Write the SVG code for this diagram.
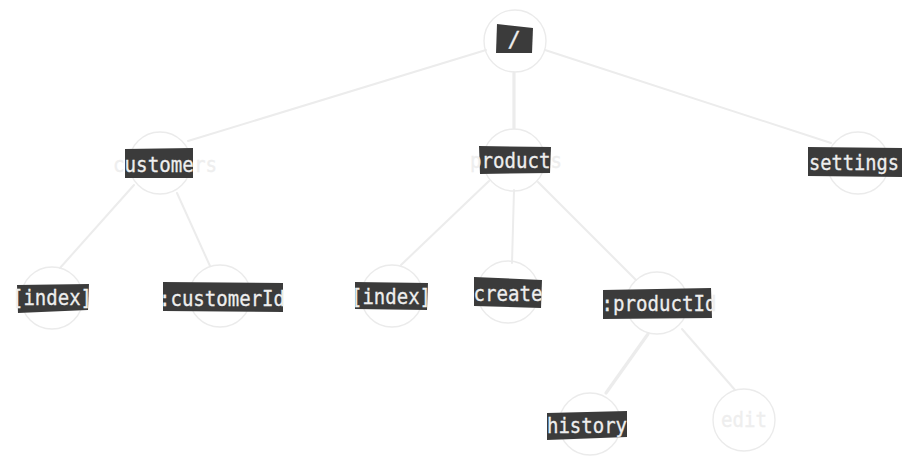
<svg xmlns="http://www.w3.org/2000/svg" width="913" height="466" viewBox="0 0 913 466">
<style>
.c{fill:none;stroke:#ebebeb;stroke-width:1.4}
.e{stroke:#ececec;stroke-width:2;fill:none;stroke-linecap:round}
.w{stroke-width:3.2}
.b{fill:#3b3b3b}
.t{font-family:"DejaVu Sans Mono",monospace;font-size:22px;fill:#eeeeee;stroke:#eeeeee;stroke-width:0.3;text-anchor:middle}
</style>
<rect width="913" height="466" fill="#ffffff"/>
<g id="connectors">
<path class="e" d="M486 50 L188 141"/>
<path class="e w" d="M514 73 L514 128"/>
<path class="e" d="M545 50 L831 143"/>
<path class="e" d="M134 185 L60 268"/>
<path class="e" d="M177 193 L210 266"/>
<path class="e" d="M489 181 L401 265"/>
<path class="e" d="M514 190 L512 263"/>
<path class="e" d="M538 182 L636 280"/>
<path class="e w" d="M648 334 L606 393"/>
<path class="e" d="M682 329 L735 390"/>
</g>
<g id="n-root">
<circle class="c" cx="515" cy="41" r="31"/>
<polygon class="b" points="497,24 533,28 532,53 496,53"/>
<text class="t" x="514" y="47">/</text>
</g>
<g id="n-customers">
<circle class="c" cx="160" cy="163" r="31"/>
<polygon class="b" points="125,149 193,148 193,178 125,178"/>
<text class="t" x="165" y="172" textLength="104" lengthAdjust="spacingAndGlyphs">customers</text>
</g>
<g id="n-products">
<circle class="c" cx="514" cy="160" r="31"/>
<polygon class="b" points="479,146 551,147 550,173 480,174"/>
<text class="t" x="516" y="168" textLength="92" lengthAdjust="spacingAndGlyphs">products</text>
</g>
<g id="n-settings">
<circle class="c" cx="858" cy="163" r="31"/>
<polygon class="b" points="808,147 902,148 902,177 808,176"/>
<text class="t" x="854" y="170" textLength="90" lengthAdjust="spacingAndGlyphs">settings</text>
</g>
<g id="n-cust-index">
<circle class="c" cx="52" cy="298" r="31"/>
<polygon class="b" points="17,285 89,284 88,310 18,313"/>
<text class="t" x="52" y="305" textLength="80" lengthAdjust="spacingAndGlyphs">[index]</text>
</g>
<g id="n-customerId">
<circle class="c" cx="220" cy="296" r="31"/>
<polygon class="b" points="163,282 283,283 283,312 163,311"/>
<text class="t" x="222" y="306" textLength="126" lengthAdjust="spacingAndGlyphs">:customerId</text>
</g>
<g id="n-prod-index">
<circle class="c" cx="392" cy="296" r="31"/>
<polygon class="b" points="355,282 428,283 427,310 355,309"/>
<text class="t" x="391" y="304" textLength="80" lengthAdjust="spacingAndGlyphs">[index]</text>
</g>
<g id="n-create">
<circle class="c" cx="508" cy="292" r="31"/>
<polygon class="b" points="474,277 542,280 541,308 474,306"/>
<text class="t" x="508" y="301" textLength="69" lengthAdjust="spacingAndGlyphs">create</text>
</g>
<g id="n-productId">
<circle class="c" cx="657" cy="303" r="31"/>
<polygon class="b" points="603,290 711,288 712,318 603,319"/>
<text class="t" x="659" y="311" textLength="115" lengthAdjust="spacingAndGlyphs">:productId</text>
</g>
<g id="n-history">
<circle class="c" cx="590" cy="424" r="31"/>
<polygon class="b" points="547,413 627,411 627,437 547,440"/>
<text class="t" x="587" y="433" textLength="80" lengthAdjust="spacingAndGlyphs">history</text>
</g>
<g id="n-edit">
<circle class="c" cx="744" cy="420" r="31"/>
<text class="t" x="744" y="427" textLength="46" lengthAdjust="spacingAndGlyphs">edit</text>
</g>
</svg>
